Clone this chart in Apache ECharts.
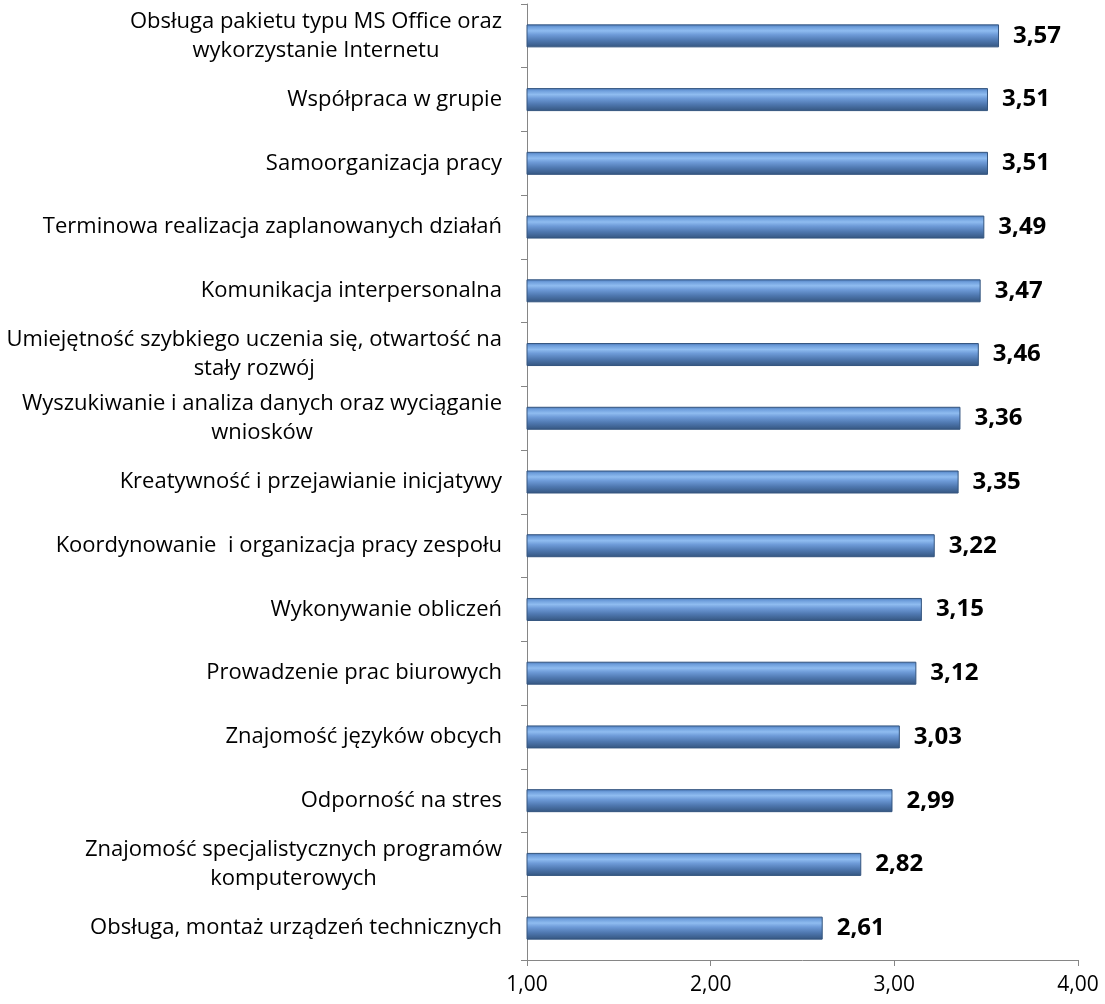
<!DOCTYPE html>
<html><head><meta charset="utf-8">
<script src="https://cdn.jsdelivr.net/npm/echarts@6/dist/echarts.min.js"></script>
<style>html,body{margin:0;padding:0;background:#fff}#c{width:1105px;height:1004px}</style>
</head><body><div id="c"></div>
<script>
const categories = [
  "Obsługa pakietu typu MS Office oraz\nwykorzystanie Internetu",
  "Współpraca w grupie",
  "Samoorganizacja pracy",
  "Terminowa realizacja zaplanowanych działań",
  "Komunikacja interpersonalna",
  "Umiejętność szybkiego uczenia się, otwartość na\nstały rozwój",
  "Wyszukiwanie i analiza danych oraz wyciąganie\nwniosków",
  "Kreatywność i przejawianie inicjatywy",
  "Koordynowanie  i organizacja pracy zespołu",
  "Wykonywanie obliczeń",
  "Prowadzenie prac biurowych",
  "Znajomość języków obcych",
  "Odporność na stres",
  "Znajomość specjalistycznych programów\nkomputerowych",
  "Obsługa, montaż urządzeń technicznych"
];
const values = [3.57, 3.51, 3.51, 3.49, 3.47, 3.46, 3.36, 3.35, 3.22, 3.15, 3.12, 3.03, 2.99, 2.82, 2.61];
const xTicks = [1, 2, 3, 4];

const fmt = v => v.toFixed(2).replace('.', ',');
const chart = echarts.init(document.getElementById('c'));
const font = '"Open Sans", sans-serif';
chart.setOption({
  animation: false,
  grid: {left: 527, right: 27, top: 4, bottom: 44},
  xAxis: {
    type: 'value', min: xTicks[0], max: xTicks[xTicks.length - 1], interval: 1,
    splitLine: {show: false},
    axisLine: {show: true, lineStyle: {color: '#868686', width: 1}},
    axisTick: {show: true, length: 6, lineStyle: {color: '#868686'}},
    axisLabel: {color: '#000', fontSize: 21, fontFamily: font, margin: 15, formatter: v => fmt(v)}
  },
  yAxis: {
    type: 'category', inverse: true, data: categories,
    axisLine: {show: true, lineStyle: {color: '#868686', width: 1}},
    axisTick: {show: true, length: 6, lineStyle: {color: '#868686'}},
    axisLabel: {
      color: '#000', fontSize: 22, fontFamily: font, margin: 25, lineHeight: 29,
      formatter: v => v.split('\n').map(l => '{c|' + l + '}').join('\n'),
      rich: {c: {align: 'center', fontSize: 22, fontFamily: font, lineHeight: 29, color: '#000'}}
    }
  },
  series: [{
    type: 'bar', data: values, barWidth: 23,
    itemStyle: {
      borderColor: '#34557f', borderWidth: 1,
      color: {type: 'linear', x: 0, y: 0, x2: 0, y2: 1, colorStops: [
        {offset: 0, color: '#4a78b8'},
        {offset: 0.12, color: '#6f9fdc'},
        {offset: 0.28, color: '#8fbcf0'},
        {offset: 0.45, color: '#6e9bd8'},
        {offset: 0.7, color: '#4f78b0'},
        {offset: 1, color: '#34557f'}
      ]}
    },
    label: {
      show: true, position: 'right', distance: 14,
      color: '#000', fontSize: 24, fontWeight: 'bold', fontFamily: font,
      formatter: p => fmt(p.value)
    }
  }]
});
</script></body></html>
